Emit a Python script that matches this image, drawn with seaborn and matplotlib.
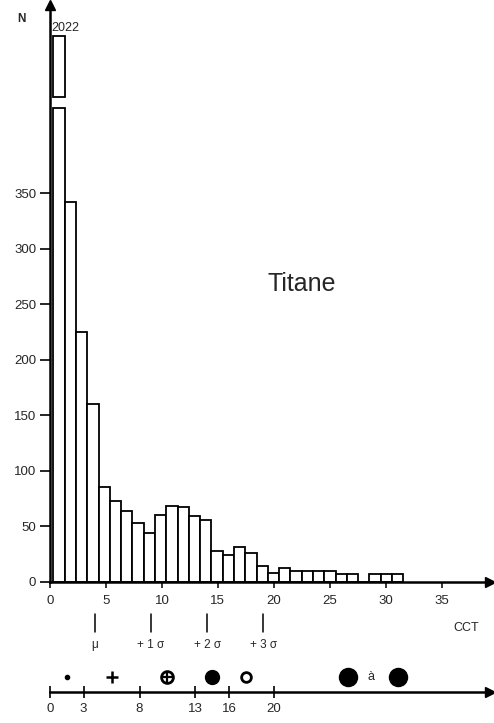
import numpy as np
import pandas as pd
import matplotlib
matplotlib.use("Agg")
import matplotlib.pyplot as plt
import matplotlib.transforms as mtransforms
from matplotlib.patches import Rectangle
import seaborn as sns

# ---------------- data ----------------
counts = [2022, 342, 225, 160, 85, 73, 64, 53, 44, 60, 68, 67, 59, 56, 28, 24,
          31, 26, 14, 8, 12, 10, 10, 10, 10, 7, 7, 0, 7, 7, 7]
bin_first_edge = 0.3
bin_last_edge = 31.57
y_ticks = [0, 50, 100, 150, 200, 250, 300, 350]
x_ticks = [0, 5, 10, 15, 20, 25, 30, 35]
mu = 4.0
sigma = 5.02
sigma_labels = ["\u03bc", "+ 1 \u03c3", "+ 2 \u03c3", "+ 3 \u03c3"]
class_bounds = [0, 3, 8, 13, 16, 20]
title = "Titane"
x_label = "CCT"
y_label = "N"

# ---------------- layout ----------------
W, H = 494, 723
x0_px, x_end_px, y0_px, ytop_px = 50, 490, 581.7, 5
px_per_x = 11.19
px_per_y = 1.11
break_at = 427          # displayed height of the broken first bar
break_box = (436.5, 491.6)

sns.set_theme(style="white")
plt.rcParams["font.family"] = ["Liberation Sans", "DejaVu Sans"]

fig = plt.figure(figsize=(W / 100, H / 100), dpi=100)
ax = fig.add_axes([x0_px / W, (H - y0_px) / H, (x_end_px - x0_px) / W,
                   (y0_px - ytop_px) / H])

edges = np.linspace(bin_first_edge, bin_last_edge, len(counts) + 1)
centers = (edges[:-1] + edges[1:]) / 2
df = pd.DataFrame({"cct": centers, "n": np.minimum(counts, break_at)})

sns.histplot(data=df, x="cct", weights="n", bins=list(edges), ax=ax,
             color="white", edgecolor="black", linewidth=1.3, alpha=1)

# broken top of first bar
ax.add_patch(Rectangle((edges[0], break_box[0]), edges[1] - edges[0],
                       break_box[1] - break_box[0], facecolor="white",
                       edgecolor="black", linewidth=1.3, clip_on=False))
ax.text(0.15, break_box[1] + 2, str(counts[0]), ha="left",
        va="bottom", fontsize=9)

ax.set_xlim(0, (x_end_px - x0_px) / px_per_x)
ax.set_ylim(0, (y0_px - ytop_px) / px_per_y)
ax.set_xlabel("")
ax.set_ylabel("")
ax.set_xticks(x_ticks)
ax.set_yticks(y_ticks)
ax.tick_params(axis="y", direction="out", length=7, width=1.4, pad=3,
               labelsize=9.5, left=True)
ax.tick_params(axis="x", direction="out", length=4.5, width=1.3, pad=5,
               labelsize=9.5, bottom=True)
for s in ["top", "right"]:
    ax.spines[s].set_visible(False)
for s in ["left", "bottom"]:
    ax.spines[s].set_linewidth(1.8)
    ax.spines[s].set_color("black")
ax.plot(1, 0, marker=">", ms=7, color="black", transform=ax.transAxes,
        clip_on=False)
ax.plot(0, 1, marker="^", ms=7, color="black", transform=ax.transAxes,
        clip_on=False)

# sigma markers
blend = mtransforms.blended_transform_factory(ax.transData, ax.transAxes)
def yfrac(py):
    return (y0_px - py) / (y0_px - ytop_px)
for k, lab in enumerate(sigma_labels):
    xv = mu + k * sigma
    ax.plot([xv, xv], [yfrac(614), yfrac(632)], color="black", lw=1.1,
            transform=blend, clip_on=False)
    ax.text(xv, yfrac(645), lab, transform=blend, ha="center", va="center",
            fontsize=8.5)
ax.text(37.2, yfrac(628), x_label, transform=blend, ha="center", va="center",
        fontsize=9)

fig.text(21 / W, 1 - 19 / H, y_label, ha="center", va="center", fontsize=8.5,
         fontweight="bold")
fig.text(302 / W, 1 - 284 / H, title, ha="center", va="center", fontsize=18)

# class scale
ax2_px = 692
ax2 = fig.add_axes([x0_px / W, (H - ax2_px) / H, (x_end_px - x0_px) / W, 30 / H])
ax2.set_xlim(ax.get_xlim())
ax2.set_ylim(0, 1)
ax2.set_facecolor("none")
for s in ["top", "right", "left"]:
    ax2.spines[s].set_visible(False)
ax2.spines["bottom"].set_linewidth(1.8)
ax2.spines["bottom"].set_color("black")
ax2.set_yticks([])
ax2.set_xticks(class_bounds)
ax2.set_xticklabels([str(v) for v in class_bounds])
ax2.tick_params(axis="x", direction="inout", length=8, width=1.4, pad=4,
                labelsize=9.5, bottom=True)
ax2.plot(1, 0, marker=">", ms=7, color="black", transform=ax2.transAxes,
         clip_on=False)

sym_y = 0.51
mids = [(class_bounds[i] + class_bounds[i + 1]) / 2 for i in range(len(class_bounds) - 1)]
ax2.plot(mids[0], sym_y, marker="o", ms=3, color="black", clip_on=False)
ax2.plot(mids[1], sym_y, marker="+", ms=9, mew=1.8, color="black", clip_on=False)
ax2.plot(mids[2], sym_y, marker="o", ms=8.5, mfc="white", mec="black", mew=2,
         clip_on=False)
ax2.plot(mids[2], sym_y, marker="+", ms=8, mew=1.6, color="black", clip_on=False)
ax2.plot(mids[3], sym_y, marker="o", ms=10, color="black", clip_on=False)
ax2.plot(mids[4] - 0.5, sym_y, marker="o", ms=7, mfc="white", mec="black",
         mew=2, clip_on=False)
ax2.plot(26.6, sym_y, marker="o", ms=13, color="black", clip_on=False)
ax2.text(28.7, sym_y, "\u00e0", ha="center", va="center", fontsize=9)
ax2.plot(31.1, sym_y, marker="o", ms=13, color="black", clip_on=False)

fig.savefig("out.png", dpi=100)
